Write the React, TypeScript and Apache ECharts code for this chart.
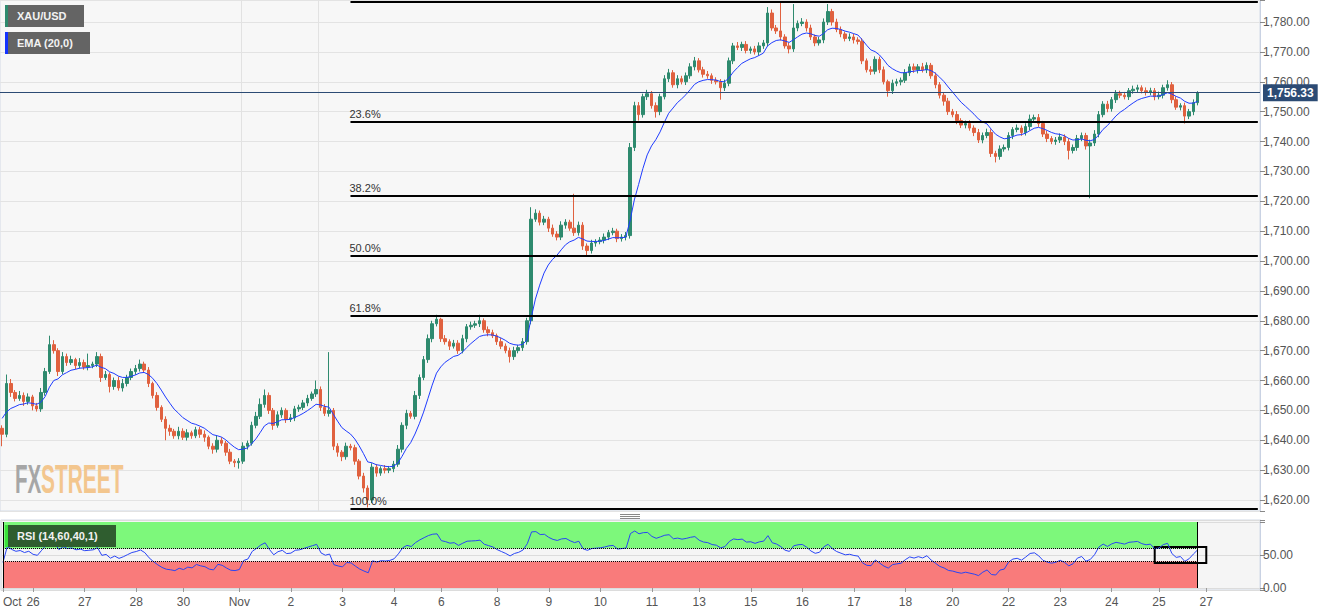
import React, { useEffect, useRef } from "react";
import * as echarts from "echarts";

const symbolName = "XAU/USD";
const emaName = "EMA (20,0)";
const rsiName = "RSI (14,60,40,1)";

// 2-hour candles (close prices); open = previous close
const firstOpen = 1644;
const closes = [
  1642, 1659, 1656, 1654, 1655, 1653, 1654.5, 1651.5, 1650.5, 1656,
  1663, 1672, 1670, 1663, 1668, 1666, 1667, 1665, 1666, 1664.5,
  1665, 1665.5, 1668, 1661, 1662, 1658, 1660, 1657.5, 1659, 1661,
  1663, 1664, 1665.5, 1663.5, 1659, 1655, 1651, 1647, 1644, 1643,
  1641.5, 1643, 1641, 1642.5, 1641.5, 1643.5, 1642, 1641, 1638, 1637,
  1640, 1639, 1636, 1633, 1632.5, 1633, 1638, 1639, 1645, 1648,
  1652, 1655, 1650, 1645, 1648.5, 1650, 1647, 1647.5, 1650.5, 1651,
  1652.5, 1654, 1655.5, 1657, 1651, 1649, 1650, 1638, 1636, 1634.5,
  1638, 1637.5, 1633, 1628, 1624, 1620, 1631, 1629, 1630.5, 1630,
  1630.5, 1632, 1637, 1645, 1649, 1648, 1655, 1661, 1667, 1674,
  1679, 1680.5, 1674, 1673, 1671.5, 1672.5, 1670, 1674, 1678, 1678.5,
  1679, 1680, 1677, 1676, 1675, 1673, 1671.5, 1670, 1668, 1670,
  1671, 1673, 1680, 1714, 1716, 1713, 1714, 1711, 1709, 1708,
  1712, 1713, 1711, 1709.5, 1712, 1705, 1703.5, 1706, 1706.5, 1707,
  1708, 1709.5, 1710, 1707.5, 1708, 1708.5, 1738, 1752, 1749, 1755,
  1756, 1752, 1750, 1755, 1761, 1763, 1759, 1761, 1760, 1762,
  1765, 1767, 1764, 1762.5, 1762, 1760.5, 1760, 1758, 1759.5, 1767,
  1772, 1771.5, 1772.5, 1770.5, 1771, 1770, 1772, 1773, 1783, 1778,
  1777, 1775, 1772, 1771, 1778, 1779.5, 1780, 1778, 1775, 1773,
  1774, 1780, 1783.5, 1780, 1777.5, 1776, 1774.5, 1775, 1774, 1773.5,
  1767, 1764, 1763.5, 1767.5, 1764, 1760, 1757, 1759.5, 1760, 1760.5,
  1763, 1765, 1764, 1765, 1764, 1765.5, 1762, 1759, 1755.5, 1753.5,
  1750, 1749, 1747, 1745.5, 1746, 1744.5, 1743, 1740.5, 1742, 1743,
  1736, 1735, 1737.5, 1738, 1742, 1744, 1744.5, 1743, 1745, 1747.5,
  1748, 1746, 1742.5, 1741, 1740, 1740.5, 1741.5, 1740, 1737, 1738,
  1741, 1742, 1738.5, 1739.5, 1742.5, 1749, 1752.5, 1751, 1754, 1756,
  1755.5, 1755, 1757, 1757.5, 1758, 1757, 1756.5, 1757, 1755, 1755.5,
  1758, 1759, 1754, 1751.5, 1752, 1748.5, 1750, 1753, 1756.33,
];
const wickUp = [
  1, 3, 1.5, 0.8, 1.5, 1, 1.2, 0.7, 1, 1.5,
  1.2, 3, 1.5, 0.8, 1.5, 1, 1.3, 0.6, 1.5, 1,
  4, 0.8, 1.5, 1, 1.2, 0.7, 1, 1.3, 1.5, 0.9,
  1, 1.2, 1.5, 0.8, 1, 0.6, 1.1, 0.7, 1, 1.2,
  0.8, 1.5, 1, 1.2, 0.7, 1, 0.9, 1.3, 0.6, 1,
  1.5, 1, 0.8, 1.1, 0.7, 1, 1.3, 0.9, 1.2, 1.5,
  2, 2, 1, 0.8, 1.2, 1, 0.7, 1.3, 1, 0.9,
  1, 1.2, 0.8, 3, 1, 1.1, 19.5, 0.8, 1, 0.7,
  1.2, 0.8, 1, 0.7, 1.1, 0.9, 1.3, 1, 0.8, 1.2,
  0.9, 1.1, 1.4, 1, 1.2, 0.8, 1.5, 1, 1.2, 1.4,
  1, 1.5, 0.5, 1.2, 0.8, 1.1, 1, 1.3, 0.9, 1.2,
  1, 2, 0.8, 1.1, 1, 0.7, 1.2, 0.9, 1, 1.3,
  0.9, 1.2, 1, 4, 1.3, 0.9, 1.1, 0.8, 1.2, 1,
  1.3, 1, 0.8, 11.5, 1.2, 1, 0.9, 1.1, 0.8, 1,
  1.2, 0.9, 1.1, 0.8, 1, 1.2, 1.5, 1.3, 1.2, 1,
  1.3, 0.9, 1.1, 1, 1.2, 1.3, 0.9, 1.2, 1, 1.1,
  1.2, 1.3, 0.9, 1, 1.1, 0.8, 1, 0.9, 1.2, 1.1,
  1, 1.3, 0.9, 1.1, 0.8, 1, 1.2, 1, 2, 1.2,
  1, 9.7, 0.9, 1.1, 8, 1, 1.3, 0.9, 1.1, 0.8,
  1, 1.2, 2.5, 0.9, 1.1, 1, 0.8, 1.2, 1, 0.9,
  1.1, 0.8, 1.2, 1, 0.9, 1.1, 0.7, 1.2, 1, 0.9,
  1.2, 1, 1.1, 0.9, 1.3, 1, 0.8, 1.1, 0.9, 1,
  1.1, 0.9, 1.2, 0.8, 1, 1.1, 0.9, 1.2, 1, 1.3,
  1.1, 0.9, 1.2, 1, 1.1, 0.8, 1.2, 0.9, 1.1, 1.5,
  1, 1.2, 0.9, 1.1, 0.8, 1, 1.2, 0.9, 1.1, 1,
  1.2, 1, 0.9, 1.1, 1.3, 1.2, 1, 1.1, 0.9, 1.2,
  1, 1.1, 0.9, 1.2, 1, 0.8, 1.1, 1, 0.9, 1.2,
  1, 1.5, 0.9, 1.1, 0.8, 1, 0.9, 1.1, 0.5,
];
const wickDown = [
  4, 1, 1.5, 1, 0.8, 1.5, 1.1, 1.5, 0.9, 1,
  1.1, 0.8, 1, 1.5, 0.9, 1.1, 0.8, 1.2, 1, 0.9,
  1.1, 0.9, 1, 1.5, 0.8, 2, 1.1, 0.9, 1.2, 1,
  0.9, 1.1, 1, 0.8, 1.2, 1, 1.1, 0.9, 4, 1.5,
  1, 1.2, 0.9, 1.1, 1, 0.8, 1.2, 1.5, 1, 1.5,
  1.1, 0.9, 1.2, 1, 1.5, 2, 0.9, 1.1, 0.8, 1,
  0.9, 1.1, 1.2, 1.5, 0.8, 1, 1.2, 0.9, 1.1, 1,
  0.9, 1.1, 0.8, 1, 1.2, 0.9, 1.1, 1.3, 1.5, 1.5,
  1, 0.9, 1.2, 1.1, 1.5, 2.5, 1, 1.2, 0.9, 1.1,
  1, 1.2, 0.9, 1.1, 1.3, 0.8, 1, 1.2, 0.9, 1.1,
  1.2, 0.9, 1.1, 1, 1.3, 0.8, 1.1, 0.9, 1.2, 1,
  0.9, 1.1, 1, 1.2, 0.8, 1.1, 1, 0.9, 2, 1.1,
  0.9, 1.1, 1, 1.2, 0.9, 1.1, 1, 1.3, 0.9, 1.1,
  1, 1.2, 0.9, 1.1, 1, 1.3, 1.5, 1, 1.2, 0.9,
  1.1, 1, 0.9, 1.2, 1, 1.1, 1, 1.2, 2, 1,
  1.1, 1, 2, 1.2, 0.9, 1.1, 1, 1.2, 0.9, 1.1,
  1, 1.2, 0.9, 1.1, 1, 1.2, 0.9, 4, 1.1, 1,
  1.1, 0.9, 1.2, 1, 1.1, 0.9, 1.2, 1, 1.1, 0.9,
  1, 1.2, 0.9, 1.5, 1, 1.1, 0.9, 1.2, 1, 1.1,
  0.9, 1.1, 1, 1.2, 0.9, 1.1, 1, 0.9, 1.2, 1,
  1.1, 0.9, 1.2, 1, 1.1, 0.9, 2, 1.1, 1, 1.2,
  0.9, 1.1, 1, 1.2, 0.9, 1.1, 1, 1.2, 1.1, 1.5,
  1.1, 0.9, 1.2, 1, 1.1, 0.9, 1.2, 1, 1.1, 0.9,
  1.2, 2, 1.1, 0.9, 1, 1.2, 0.9, 1.1, 1, 1.2,
  0.9, 1.1, 1, 1.2, 0.9, 1.1, 1, 1.2, 3, 1,
  1.1, 0.9, 1.2, 17.5, 1, 1.1, 0.9, 1.2, 1, 1.1,
  1, 0.9, 1.1, 1, 1.2, 0.9, 1.1, 1, 1.2, 0.9,
  1.1, 1, 1.2, 0.9, 1.1, 2.5, 1, 1.2, 0.9,
];

const emaSeed = 1648.5; // EMA level at the left edge of the picture
const emaBars = 10; // 20 hourly bars = 10 two-hour bars
const rsiBars = 12; // smoothing length on these two-hour bars
const rsiSeedGain = 1.0;
const rsiSeedLoss = 1.4;

const lastPrice = 1756.33;
const fibHigh = 1786.7;
const fibLow = 1617.0;
const fibRatios = [0, 0.236, 0.382, 0.5, 0.618, 1];
const fibTexts = ["", "23.6%", "38.2%", "50.0%", "61.8%", "100.0%"];
const fibStartIndex = 81;

const rsiUpper = 60;
const rsiLower = 40;

const dateLabels: [number, string][] = [
  [0, "Oct"], [7, "26"], [19, "27"], [31, "28"], [42, "30"], [55, "Nov"],
  [67, "2"], [79, "3"], [91, "4"], [102, "6"], [115, "8"], [127, "9"],
  [139, "10"], [151, "11"], [162, "13"], [174, "15"], [186, "16"],
  [198, "17"], [210, "18"], [221, "20"], [234, "22"], [246, "23"],
  [258, "24"], [269, "25"], [280, "27"],
];
const categoryCount = 293;

const UP = "#2e8a6e";
const DOWN = "#e0613f";

function fmtPrice(v: number) {
  return v.toLocaleString("en-US", { minimumFractionDigits: 2, maximumFractionDigits: 2 });
}

export default function App() {
  const ref = useRef<HTMLDivElement>(null);
  useEffect(() => {
    document.body.style.margin = "0";
    const chart = echarts.init(ref.current!, null, { renderer: "svg" });

    const cats = Array.from({ length: categoryCount }, (_, i) => String(i));
    const labelMap = new Map<number, string>(dateLabels);

    const candles = closes.map((c, i) => {
      const o = i === 0 ? firstOpen : closes[i - 1];
      const h = Math.max(o, c) + wickUp[i];
      const l = Math.min(o, c) - wickDown[i];
      return [o, c, l, h];
    });

    const alpha = 2 / (emaBars + 1);
    let e = emaSeed;
    const ema = closes.map((c) => {
      e = e + alpha * (c - e);
      return +e.toFixed(3);
    });

    let ag = rsiSeedGain;
    let al = rsiSeedLoss;
    const rsi = closes.map((c, i) => {
      const prev = i === 0 ? firstOpen : closes[i - 1];
      const d = c - prev;
      ag = (ag * (rsiBars - 1) + Math.max(d, 0)) / rsiBars;
      al = (al * (rsiBars - 1) + Math.max(-d, 0)) / rsiBars;
      return +(100 - 100 / (1 + ag / al)).toFixed(2);
    });
    const last = closes.length - 1;

    const fibLines = fibRatios.map((r, k) => {
      const level = fibHigh - r * (fibHigh - fibLow);
      return [
        {
          xAxis: fibStartIndex,
          yAxis: level,
          lineStyle: { color: "#000", width: 2, type: "solid" },
          label: {
            show: fibTexts[k] !== "",
            formatter: fibTexts[k],
            position: "insideStartTop",
            color: "#333",
            fontSize: 11,
            fontFamily: "Arial, 'Liberation Sans', sans-serif",
            distance: [-1, 2],
          },
        },
        { xAxis: categoryCount - 1, yAxis: level },
      ];
    });

    const pxPerUnit = 478 / 160;
    const yMax = 1780 + 22 / pxPerUnit;
    const yMin = 1620 - 11 / pxPerUnit;

    const option: any = {
      animation: false,
      backgroundColor: "#ffffff",
      textStyle: { fontFamily: "Arial, 'Liberation Sans', sans-serif" },
      grid: [
        { left: 0, right: 71, top: 0, height: 511, show: true, backgroundColor: "#f7f7f7", borderColor: "#d3dae6", borderWidth: 1 },
        { left: 0, right: 71, top: 520, height: 70, show: true, backgroundColor: "#f5f5f5", borderColor: "#d3dae6", borderWidth: 1 },
      ],
      xAxis: [
        {
          gridIndex: 0,
          type: "category",
          data: cats,
          boundaryGap: true,
          axisLine: { show: false },
          axisTick: { show: false },
          axisLabel: { show: false },
          splitLine: { show: true, interval: (i: number) => i === 56 || i === 74, lineStyle: { color: "#e2e2e2" } },
        },
        {
          gridIndex: 1,
          type: "category",
          data: cats,
          boundaryGap: true,
          axisLine: { show: false },
          axisTick: {
            show: true,
            alignWithLabel: true,
            length: 4,
            interval: (i: number) => labelMap.has(i),
            lineStyle: { color: "#999" },
          },
          axisLabel: {
            interval: (i: number) => labelMap.has(i),
            formatter: (_v: string, i: number) => labelMap.get(i) ?? "",
            color: "#555",
            fontSize: 12,
            margin: 6,
            alignMinLabel: "left",
          },
          splitLine: { show: true, interval: (i: number) => i === 56, lineStyle: { color: "#e2e2e2" } },
        },
      ],
      yAxis: [
        {
          gridIndex: 0,
          type: "value",
          position: "right",
          min: yMin,
          max: yMax,
          splitNumber: 17,
          axisLine: { show: true, lineStyle: { color: "#c9d2e3" } },
          axisTick: { show: true, length: 5, lineStyle: { color: "#888" } },
          axisLabel: {
            color: "#555",
            fontSize: 12,
            margin: 3,
            formatter: (v: number) => (Math.abs(v / 10 - Math.round(v / 10)) < 1e-6 ? fmtPrice(v) : ""),
          },
          splitLine: { show: true, lineStyle: { color: "#e3e3e3" } },
        },
        {
          gridIndex: 1,
          type: "value",
          position: "right",
          min: -2 / 0.66,
          max: 100 + 2 / 0.66,
          splitNumber: 2,
          axisLine: { show: true, lineStyle: { color: "#c9d2e3" } },
          axisTick: { show: true, length: 5, lineStyle: { color: "#888" } },
          axisLabel: {
            color: "#555",
            fontSize: 12,
            margin: 3,
            formatter: (v: number) => (Math.abs(v) < 1e-6 || Math.abs(v - 50) < 1e-6 ? v.toFixed(2) : ""),
          },
          splitLine: { show: true, lineStyle: { color: "#dcdcdc" } },
        },
      ],
      series: [
        {
          type: "candlestick",
          name: symbolName,
          xAxisIndex: 0,
          yAxisIndex: 0,
          data: candles,
          barWidth: 3,
          itemStyle: { color: UP, color0: DOWN, borderColor: UP, borderColor0: DOWN, borderWidth: 1 },
          markLine: {
            silent: true,
            symbol: ["none", "none"],
            animation: false,
            data: [
              ...fibLines,
              {
                yAxis: lastPrice,
                lineStyle: { color: "#2c4b74", width: 1, type: "solid" },
                label: {
                  show: true,
                  position: "end",
                  formatter: fmtPrice(lastPrice),
                  backgroundColor: "#2c4b74",
                  color: "#fff",
                  fontWeight: "bold",
                  fontSize: 12,
                  padding: [3, 4, 2, 4],
                  distance: 3,
                },
              },
            ],
          },
        },
        {
          type: "line",
          name: emaName,
          xAxisIndex: 0,
          yAxisIndex: 0,
          data: ema,
          showSymbol: false,
          z: 3,
          lineStyle: { color: "#1f3cff", width: 1 },
        },
        {
          type: "line",
          name: "RSI",
          xAxisIndex: 1,
          yAxisIndex: 1,
          data: rsi,
          showSymbol: false,
          z: 3,
          lineStyle: { color: "#2845f5", width: 1 },
          markArea: {
            silent: true,
            data: [
              [{ xAxis: 0, yAxis: rsiUpper, itemStyle: { color: "#7df87b" } }, { xAxis: last, yAxis: 100 }],
              [{ xAxis: 0, yAxis: 0, itemStyle: { color: "#f97b7b" } }, { xAxis: last, yAxis: rsiLower }],
              [
                { xAxis: 268, yAxis: 62, itemStyle: { color: "rgba(0,0,0,0)", borderColor: "#000", borderWidth: 2 } },
                { xAxis: 280, yAxis: 38 },
              ],
            ],
          },
          markLine: {
            silent: true,
            symbol: ["none", "none"],
            label: { show: false },
            data: [
              [{ xAxis: 0, yAxis: rsiUpper, lineStyle: { color: "#000", width: 1, type: "dotted" } }, { xAxis: last, yAxis: rsiUpper }],
              [{ xAxis: 0, yAxis: rsiLower, lineStyle: { color: "#000", width: 1, type: "dotted" } }, { xAxis: last, yAxis: rsiLower }],
              [{ xAxis: 0, yAxis: 0, lineStyle: { color: "#000", width: 1, type: "solid" } }, { xAxis: 0, yAxis: 100 }],
              [{ xAxis: last, yAxis: 0, lineStyle: { color: "#000", width: 1, type: "solid" } }, { xAxis: last, yAxis: 100 }],
            ],
          },
        },
      ],
      graphic: [
        {
          type: "text",
          z: 1,
          x: 15,
          y: 479,
          scaleX: 0.5,
          style: { text: "FX", font: "bold 41px Arial, 'Liberation Sans'", fill: "#a6a6a6", verticalAlign: "middle" },
        },
        {
          type: "text",
          z: 1,
          x: 41,
          y: 479,
          scaleX: 0.51,
          style: { text: "STREET", font: "bold 41px Arial, 'Liberation Sans'", fill: "#f3c68e", verticalAlign: "middle" },
        },
        { type: "rect", z: 10, shape: { x: 5, y: 5, width: 79, height: 22 }, style: { fill: "#646464" } },
        { type: "rect", z: 11, shape: { x: 5, y: 5, width: 3, height: 22 }, style: { fill: "#2e8a6e" } },
        { type: "text", z: 12, x: 17, y: 16, style: { text: symbolName, font: "bold 11px Arial, 'Liberation Sans'", fill: "#f2f2f2", verticalAlign: "middle" } },
        { type: "rect", z: 10, shape: { x: 5, y: 32, width: 85, height: 22 }, style: { fill: "#646464" } },
        { type: "rect", z: 11, shape: { x: 5, y: 32, width: 3, height: 22 }, style: { fill: "#1433ff" } },
        { type: "text", z: 12, x: 17, y: 43, style: { text: emaName, font: "bold 11px Arial, 'Liberation Sans'", fill: "#f2f2f2", verticalAlign: "middle" } },
        { type: "rect", z: 10, shape: { x: 5, y: 525, width: 111, height: 22 }, style: { fill: "#2f5d2f" } },
        { type: "rect", z: 11, shape: { x: 5, y: 525, width: 3, height: 22 }, style: { fill: "#3ae23a" } },
        { type: "text", z: 12, x: 17, y: 536, style: { text: rsiName, font: "bold 11px Arial, 'Liberation Sans'", fill: "#f2f2f2", verticalAlign: "middle" } },
        { type: "line", z: 10, shape: { x1: 620, y1: 514.5, x2: 640, y2: 514.5 }, style: { stroke: "#888", lineWidth: 1 } },
        { type: "line", z: 10, shape: { x1: 620, y1: 516.5, x2: 640, y2: 516.5 }, style: { stroke: "#888", lineWidth: 1 } },
        { type: "line", z: 10, shape: { x1: 620, y1: 518.5, x2: 640, y2: 518.5 }, style: { stroke: "#888", lineWidth: 1 } },
      ],
    };

    chart.setOption(option);
    return () => chart.dispose();
  }, []);
  return <div ref={ref} style={{ position: "absolute", left: 0, top: 0, width: 1331, height: 615 }} />;
}
